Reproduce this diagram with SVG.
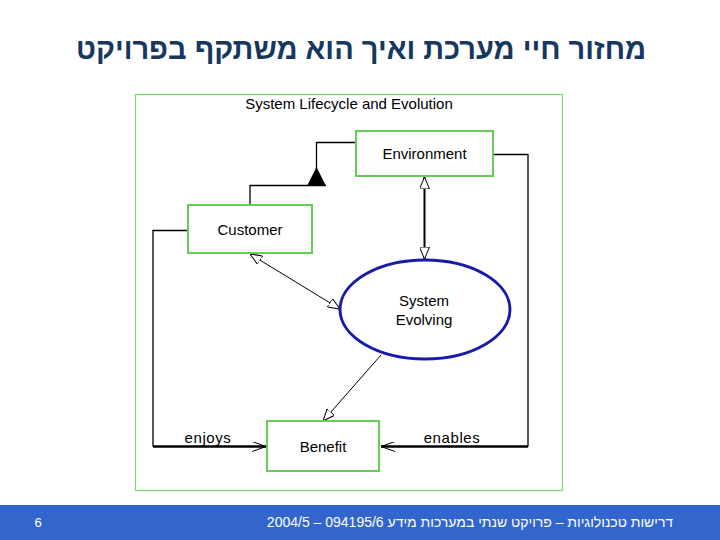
<svg xmlns="http://www.w3.org/2000/svg" width="720" height="540" viewBox="0 0 720 540">
<style>
.box{fill:#fff;stroke:#66cc55;stroke-width:2}
.lbl{font-family:"Liberation Sans",Arial,sans-serif;font-size:15px;fill:#000}
.ln{fill:none;stroke:#000;stroke-width:1.3}
.thick{fill:none;stroke:#000;stroke-width:2.5}
</style>
<defs>
<marker id="hollow" viewBox="0 0 12 10" refX="12" refY="5" markerWidth="12" markerHeight="10" markerUnits="userSpaceOnUse" orient="auto-start-reverse">
<path d="M0,0 L12,5 L0,10 Z" fill="#fff" stroke="#000" stroke-width="1"/>
</marker>
<marker id="vee" viewBox="0 0 14 10" refX="14" refY="5" markerWidth="14" markerHeight="10" markerUnits="userSpaceOnUse" orient="auto">
<path d="M0,0 L14,5 L0,10" fill="none" stroke="#000" stroke-width="1"/>
</marker>
</defs>
<rect width="720" height="540" fill="#fff"/>
<text x="361" y="59" text-anchor="middle" direction="rtl" font-family="'Liberation Sans',Arial,sans-serif" font-size="29" font-weight="bold" fill="#17375e">מחזור חיי מערכת ואיך הוא משתקף בפרויקט</text>
<rect x="135.5" y="94.5" width="427" height="396" fill="#fff" stroke="#77dd66" stroke-width="1.2"/>
<text class="lbl" x="349" y="109" text-anchor="middle">System Lifecycle and Evolution</text>
<g id="connectors">
<polyline class="ln" points="356,142.5 316.5,142.5 316.5,170"/>
<polygon points="316.5,167 307,186 326,186" fill="#000"/>
<polyline class="ln" points="326,185.5 250,185.5 250,205"/>
<polyline class="ln" points="493,154.5 528,154.5 528,446.5"/>
<line class="thick" x1="528" y1="446.5" x2="381" y2="446.5" marker-end="url(#vee)"/>
<polyline class="ln" points="188,230.5 153,230.5 153,446.5"/>
<line class="thick" x1="153" y1="446.5" x2="266" y2="446.5" marker-end="url(#vee)"/>
<line x1="424.5" y1="177" x2="424.5" y2="259" stroke="#000" stroke-width="2" marker-start="url(#hollow)" marker-end="url(#hollow)"/>
<line x1="250" y1="254" x2="340" y2="309" stroke="#000" stroke-width="1" marker-start="url(#hollow)" marker-end="url(#hollow)"/>
<line x1="381" y1="355" x2="323" y2="421" stroke="#000" stroke-width="1" marker-end="url(#hollow)"/>
<text class="lbl" x="208" y="443" text-anchor="middle" letter-spacing="0.6">enjoys</text>
<text class="lbl" x="452" y="443" text-anchor="middle" letter-spacing="0.6">enables</text>
</g>
<g id="environment">
<rect class="box" x="356" y="131" width="137" height="45"/>
<text class="lbl" x="424.5" y="159" text-anchor="middle">Environment</text>
</g>
<g id="customer">
<rect class="box" x="188" y="205" width="124" height="48"/>
<text class="lbl" x="250" y="235" text-anchor="middle">Customer</text>
</g>
<g id="system-evolving">
<ellipse cx="425" cy="309.5" rx="85" ry="49.5" fill="#fff" stroke="#1a1aaa" stroke-width="3"/>
<text class="lbl" x="424" y="306" text-anchor="middle">System</text>
<text class="lbl" x="424" y="325" text-anchor="middle">Evolving</text>
</g>
<g id="benefit">
<rect class="box" x="267" y="421" width="112" height="50"/>
<text class="lbl" x="323" y="452" text-anchor="middle">Benefit</text>
</g>
<rect x="0" y="505" width="720" height="35" fill="#3366cc"/>
<text x="38" y="527" text-anchor="middle" font-family="'Liberation Sans',Arial,sans-serif" font-size="13" fill="#fff">6</text>
<text x="470" y="527" text-anchor="middle" direction="rtl" font-family="'Liberation Sans',Arial,sans-serif" font-size="14" fill="#fff">דרישות טכנולוגיות – פרויקט שנתי במערכות מידע 094195/6 – 2004/5</text>
</svg>
